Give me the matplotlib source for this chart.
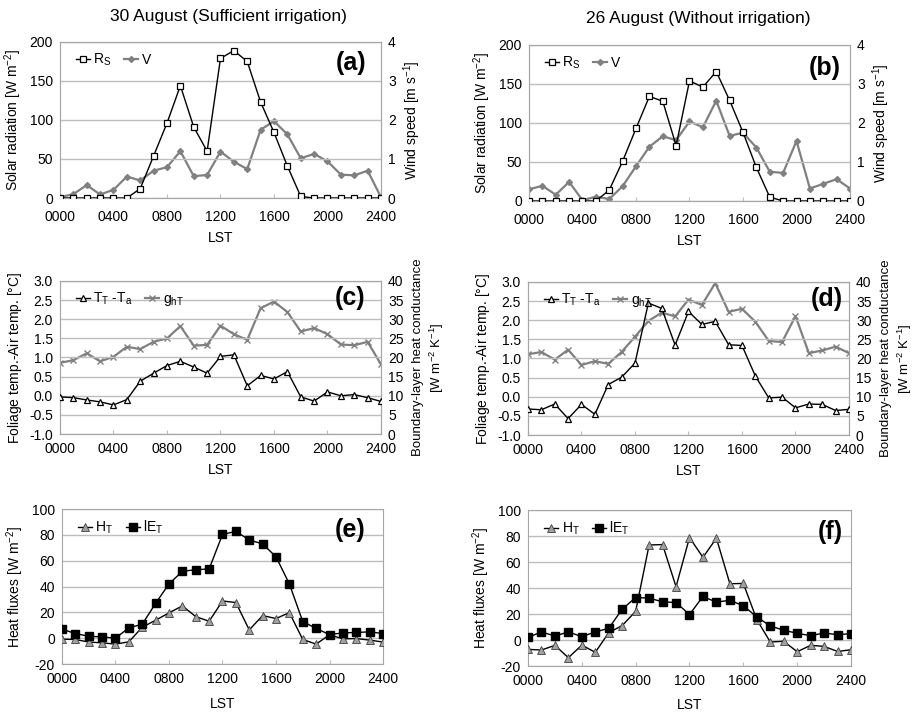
import matplotlib.pyplot as plt
import numpy as np

plt.rcParams['font.family'] = ['Liberation Sans', 'DejaVu Sans']
plt.rcParams['mathtext.fontset'] = 'custom'
plt.rcParams['mathtext.rm'] = 'Liberation Sans'

hours = np.arange(0, 25)
tick_hours = [0, 4, 8, 12, 16, 20, 24]
tick_labels = ['0000', '0400', '0800', '1200', '1600', '2000', '2400']

# 30 August (sufficient irrigation)
rs_a = [0, 0, 0, 0, 0, 0, 12, 54, 96, 144, 91, 60, 179, 189, 175, 123, 84, 41, 2, 0, 0, 0, 0, 0, 0]
v_a = [0.02, 0.1, 0.33, 0.09, 0.21, 0.55, 0.45, 0.7, 0.79, 1.2, 0.56, 0.59, 1.19, 0.93, 0.74,
       1.75, 1.97, 1.63, 1.02, 1.13, 0.94, 0.6, 0.58, 0.7, 0.02]
dt_c = [-0.03, -0.05, -0.11, -0.16, -0.24, -0.1, 0.38, 0.59, 0.79, 0.9, 0.75, 0.59, 1.03, 1.07,
        0.26, 0.53, 0.44, 0.63, -0.03, -0.14, 0.1, 0.0, 0.03, -0.05, -0.15]
g_c = [18.6, 19.3, 21.1, 19.0, 20.2, 22.8, 22.2, 24.1, 25.0, 28.2, 23.1, 23.3, 28.3, 26.1, 24.6,
       32.9, 34.6, 31.9, 26.8, 27.7, 26.1, 23.4, 23.2, 24.1, 18.2]
h_e = [-0.8, -1, -3, -3.6, -4.6, -2.8, 8.5, 13.9, 19.6, 25, 16.7, 13.1, 28.8, 27.6, 6.4, 17.5,
       15.2, 19.8, -1, -4.6, 2.6, -0.5, -0.3, -1.5, -3]
le_e = [7, 3.6, 1.5, 1, 0, 8, 10.8, 27, 42, 51.8, 53, 53.6, 80.3, 82.7, 76, 73, 63, 42, 12.9,
        7.5, 2.8, 4.1, 4.4, 4.9, 3.6]

# 26 August (without irrigation)
rs_b = [0, 0, 0, 0, 0, 0, 14, 51, 93, 134, 128, 71, 154, 146, 166, 129, 88, 43, 5, 0, 0, 0, 0, 0, 0]
v_b = [0.3, 0.39, 0.16, 0.49, 0.02, 0.11, 0.05, 0.38, 0.89, 1.39, 1.66, 1.56, 2.04, 1.89, 2.57,
       1.67, 1.75, 1.37, 0.75, 0.72, 1.54, 0.32, 0.44, 0.56, 0.32]
dt_d = [-0.32, -0.34, -0.19, -0.57, -0.2, -0.46, 0.32, 0.51, 0.88, 2.45, 2.31, 1.35, 2.23, 1.89,
        1.97, 1.36, 1.34, 0.54, -0.03, -0.01, -0.29, -0.19, -0.2, -0.36, -0.33]
g_d = [21.1, 21.7, 19.7, 22.3, 18.3, 19.3, 18.6, 21.7, 25.7, 29.8, 32.0, 31.0, 35.4, 34.0, 39.7,
       32.2, 33.0, 29.6, 24.6, 24.3, 31.1, 21.4, 22.1, 23.1, 21.4]
h_f = [-7.2, -7.7, -4.1, -13.6, -3.9, -9.5, 5.7, 11.1, 22.1, 73.1, 73.4, 41, 78.8, 63.6, 78.3,
       43.3, 43.5, 15.7, -1.5, -1, -9, -4.1, -4.9, -8.8, -7.5]
le_f = [2, 6.2, 3.1, 6.2, 2.6, 6.2, 9, 23.7, 32.7, 32.2, 29.4, 28.8, 19.6, 33.5, 29.1, 30.6,
        26.3, 17.8, 10.8, 7.5, 5.2, 3.3, 5.4, 4.1, 4.9]

GREY = '#808080'
GRID = '#bdbdbd'
FS = 10


def style_axes(ax, ylim, yticks, yfmt, xpad, lpad):
    ax.set_xlim(0, 24)
    ax.set_ylim(*ylim)
    ax.set_xticks(tick_hours)
    ax.set_xticklabels(tick_labels, fontsize=FS)
    ax.set_yticks(yticks)
    ax.set_yticklabels([yfmt.format(t) for t in yticks], fontsize=FS)
    ax.tick_params(axis='x', direction='in', length=3, color=GRID, pad=xpad)
    ax.tick_params(axis='y', length=0, pad=5)
    ax.grid(axis='y', color=GRID, lw=1)
    ax.set_axisbelow(True)
    for s in ax.spines.values():
        s.set_color('#a6a6a6')
    ax.set_xlabel('LST', fontsize=FS, labelpad=lpad)


def style_right(ax2, ylim, yticks):
    ax2.set_ylim(*ylim)
    ax2.set_yticks(yticks)
    ax2.set_yticklabels([str(t) for t in yticks], fontsize=FS)
    ax2.tick_params(axis='y', length=0, pad=5)
    for s in ax2.spines.values():
        s.set_color('#a6a6a6')


def add_legend(ax, handles):
    ax.legend(handles=handles, loc='upper left', bbox_to_anchor=(0.02, 1.0), ncol=2,
              frameon=False, fontsize=FS, handlelength=1.0, handletextpad=0.25,
              columnspacing=0.9, borderaxespad=0.3)


fig = plt.figure(figsize=(9.13, 7.13), dpi=100)

pos = {
    'a': [0.0657, 0.7223, 0.3516, 0.2188],
    'b': [0.5794, 0.7181, 0.3516, 0.2188],
    'c': [0.0657, 0.3913, 0.3516, 0.2146],
    'd': [0.5783, 0.3899, 0.3516, 0.2146],
    'e': [0.0679, 0.0687, 0.3516, 0.2174],
    'f': [0.5783, 0.0659, 0.3538, 0.2188],
}
# panel letter anchor (right edge, vertical centre) in axes fraction
letter_pos = {
    'a': (0.953, 0.865), 'b': (0.972, 0.853),
    'c': (0.950, 0.889), 'd': (0.981, 0.889),
    'e': (0.944, 0.865), 'f': (0.975, 0.859),
}
pads = {'a': (8.5, 5), 'b': (8.5, 5), 'c': (6, 5), 'd': (6, 5), 'e': (6, 8), 'f': (6, 7)}

rad_data = {'a': (rs_a, v_a), 'b': (rs_b, v_b)}
tmp_data = {'c': (dt_c, g_c), 'd': (dt_d, g_d)}
flux_data = {'e': (h_e, le_e), 'f': (h_f, le_f)}


def panel_letter(ax, key):
    lx, ly = letter_pos[key]
    ax.text(lx, ly, '(%s)' % key, transform=ax.transAxes, ha='right', va='center',
            fontsize=18, fontweight='bold')


for key, (rs, v) in rad_data.items():
    ax = fig.add_axes(pos[key])
    ax2 = ax.twinx()
    l1, = ax.plot(hours, rs, color='black', lw=1, marker='s', ms=4, mfc='white', mec='black',
                  mew=0.9, label=r'R$_\mathregular{S}$', zorder=3)
    l2, = ax2.plot(hours, v, color=GREY, lw=1.6, marker='D', ms=3, mfc=GREY, mec=GREY,
                   label='V', zorder=2)
    ax.set_zorder(ax2.get_zorder() + 1)
    ax.patch.set_visible(False)
    style_axes(ax, (0, 200), [0, 50, 100, 150, 200], '{:d}', *pads[key])
    style_right(ax2, (0, 4), [0, 1, 2, 3, 4])
    ax.set_ylabel(r'Solar radiation [W m$^{\mathregular{-2}}$]', fontsize=FS)
    ax2.set_ylabel(r'Wind speed [m s$^{\mathregular{-1}}$]', fontsize=FS)
    add_legend(ax, [l1, l2])
    panel_letter(ax, key)

for key, (dt, g) in tmp_data.items():
    ax = fig.add_axes(pos[key])
    ax2 = ax.twinx()
    l1, = ax.plot(hours, dt, color='black', lw=1, marker='^', ms=4, mfc='white', mec='black',
                  mew=0.9, label=r'T$_\mathregular{T}$ -T$_\mathregular{a}$', zorder=3)
    l2, = ax2.plot(hours, g, color=GREY, lw=1.6, marker='x', ms=4, mec=GREY,
                   label=r'g$_\mathregular{hT}$', zorder=2)
    ax.set_zorder(ax2.get_zorder() + 1)
    ax.patch.set_visible(False)
    style_axes(ax, (-1, 3), list(np.arange(-1, 3.01, 0.5)), '{:.1f}', *pads[key])
    style_right(ax2, (0, 40), list(range(0, 41, 5)))
    ax.set_ylabel(r'Foliage temp.-Air temp. [$\degree$C]', fontsize=FS)
    ax2.set_ylabel('Boundary-layer heat conductance\n' + r'[W m$^{\mathregular{-2}}$ K$^{\mathregular{-1}}$]',
                   fontsize=9.5, linespacing=1.3, labelpad=6)
    add_legend(ax, [l1, l2])
    panel_letter(ax, key)

for key, (h, le) in flux_data.items():
    ax = fig.add_axes(pos[key])
    l1, = ax.plot(hours, h, color='black', lw=1, marker='^', ms=6, mfc='#a0a0a0', mec='#404040',
                  mew=0.6, label=r'H$_\mathregular{T}$', zorder=3)
    l2, = ax.plot(hours, le, color='black', lw=1, marker='s', ms=6, mfc='black', mec='black',
                  label=r'lE$_\mathregular{T}$', zorder=3)
    style_axes(ax, (-20, 100), list(range(-20, 101, 20)), '{:d}', *pads[key])
    ax.set_ylabel(r'Heat fluxes [W m$^{\mathregular{-2}}$]', fontsize=FS)
    add_legend(ax, [l1, l2])
    panel_letter(ax, key)

fig.text(228 / 913, 1 - 17 / 713, '30 August (Sufficient irrigation)', ha='center', va='center',
         fontsize=12.5)
fig.text(698 / 913, 1 - 18 / 713, '26 August (Without irrigation)', ha='center', va='center',
         fontsize=12.5)

plt.savefig('out.png', dpi=100)
